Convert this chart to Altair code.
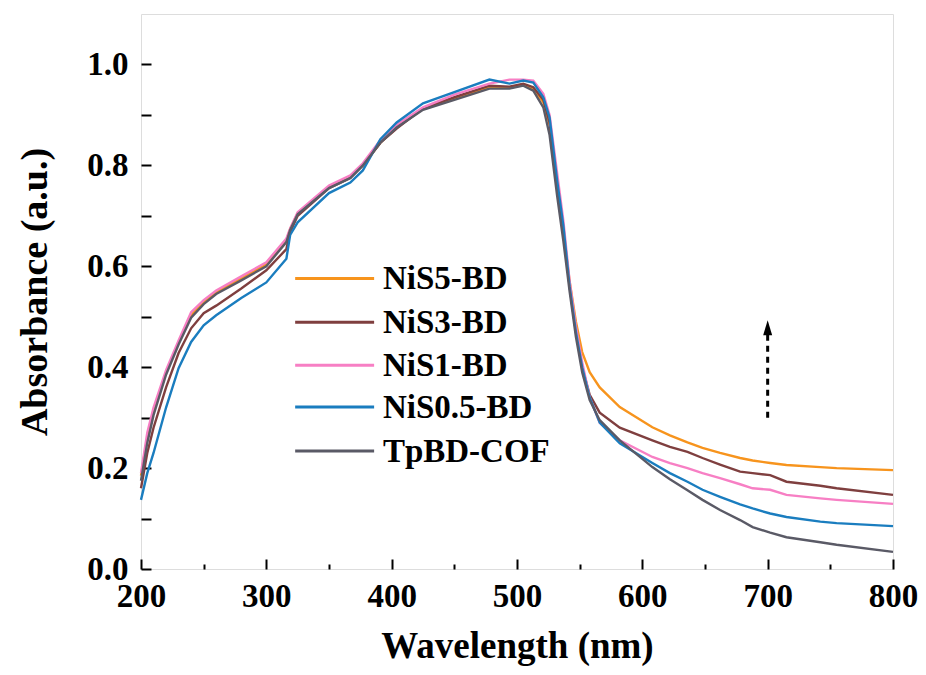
import altair as alt
import pandas as pd

wavelength = [200, 205, 210, 220, 230, 240, 250, 260, 280, 300, 316, 319, 325, 350, 367, 377,
              391, 404, 425, 450, 478, 494, 505, 513, 521, 526, 532, 537, 542, 547, 552, 558,
              566, 582, 608, 622, 636, 648, 662, 678, 688, 702, 715, 742, 755, 800]

nis5 = [0.185, 0.26, 0.315, 0.39, 0.45, 0.503, 0.53, 0.549, 0.576, 0.604, 0.652, 0.674, 0.705, 0.757, 0.777, 0.80,
        0.845, 0.875, 0.912, 0.933, 0.955, 0.955, 0.96, 0.952, 0.925, 0.88, 0.77, 0.67, 0.57, 0.49, 0.43, 0.39,
        0.36, 0.321, 0.281, 0.265, 0.251, 0.24, 0.23, 0.22, 0.215, 0.21, 0.206, 0.202, 0.2, 0.196]
nis3 = [0.16, 0.23, 0.28, 0.36, 0.428, 0.477, 0.507, 0.522, 0.556, 0.592, 0.634, 0.668, 0.70, 0.755, 0.775, 0.80,
        0.845, 0.873, 0.913, 0.935, 0.958, 0.956, 0.962, 0.955, 0.93, 0.885, 0.77, 0.67, 0.56, 0.47, 0.40, 0.345,
        0.31, 0.28, 0.255, 0.242, 0.232, 0.22, 0.207, 0.193, 0.19, 0.186, 0.173, 0.165, 0.16, 0.147]
nis1 = [0.19, 0.27, 0.32, 0.394, 0.453, 0.509, 0.533, 0.552, 0.58, 0.608, 0.655, 0.675, 0.707, 0.76, 0.78, 0.804,
        0.85, 0.88, 0.915, 0.94, 0.962, 0.97, 0.97, 0.968, 0.942, 0.90, 0.785, 0.69, 0.57, 0.48, 0.41, 0.34,
        0.29, 0.255, 0.222, 0.21, 0.20, 0.19, 0.18, 0.168, 0.16, 0.157, 0.147, 0.14, 0.137, 0.129]
nis05 = [0.137, 0.19, 0.23, 0.32, 0.398, 0.45, 0.483, 0.503, 0.537, 0.568, 0.615, 0.662, 0.687, 0.745, 0.766, 0.79,
         0.852, 0.885, 0.923, 0.945, 0.970, 0.962, 0.968, 0.964, 0.935, 0.895, 0.77, 0.68, 0.56, 0.47, 0.40, 0.34,
         0.29, 0.249, 0.21, 0.19, 0.173, 0.157, 0.143, 0.128, 0.12, 0.11, 0.103, 0.094, 0.091, 0.085]
tpbd = [0.175, 0.25, 0.305, 0.385, 0.445, 0.498, 0.525, 0.545, 0.572, 0.60, 0.648, 0.672, 0.703, 0.755, 0.775, 0.80,
        0.845, 0.875, 0.91, 0.93, 0.952, 0.952, 0.958, 0.948, 0.915, 0.86, 0.74, 0.65, 0.55, 0.46, 0.39, 0.335,
        0.295, 0.255, 0.202, 0.178, 0.156, 0.137, 0.117, 0.097, 0.083, 0.072, 0.063, 0.053, 0.048, 0.034]

series_names = ["NiS5-BD", "NiS3-BD", "NiS1-BD", "NiS0.5-BD", "TpBD-COF"]
series_colors = ["#F7941D", "#7F3F3F", "#F77FC4", "#1A7DBF", "#5A5A66"]
draw_order = [1, 2, 3, 4, 0]  # TpBD first, blue last (on top)

x_major = [200, 300, 400, 500, 600, 700, 800]
x_minor = [250, 350, 450, 550, 650, 750]
y_ticks = [0.0, 0.1, 0.2, 0.3, 0.4, 0.5, 0.6, 0.7, 0.8, 0.9, 1.0]

# legend placed inside the plot (data coordinates)
legend_y = [0.576, 0.489, 0.404, 0.321, 0.234]
legend_x_start = [323]
legend_x_end = [386]
legend_label_x = [393]

# dashed arrow annotation
arrow_x = [700]
arrow_y_start = [0.30]
arrow_y_end = [0.465]
arrow_head_y = [0.478]

series_values = [nis5, nis3, nis1, nis05, tpbd]
rows = []
for i, (name, vals) in enumerate(zip(series_names, series_values)):
    for w, v in zip(wavelength, vals):
        rows.append({"wavelength": w, "absorbance": v, "series": name, "order": draw_order[i]})
df = pd.DataFrame(rows)

legend_df = pd.DataFrame({
    "series": series_names,
    "y": legend_y,
    "x0": legend_x_start * len(series_names),
    "x1": legend_x_end * len(series_names),
    "xl": legend_label_x * len(series_names),
})

FONT = "Liberation Serif"

x_scale = alt.Scale(domain=[200, 800], nice=False, zero=False)
y_scale = alt.Scale(domain=[0, 1.1], nice=False, zero=True)
color_scale = alt.Scale(domain=series_names, range=series_colors)

y_axis = alt.Axis(
    values=y_ticks, offset=-10, domain=False, tickSize=10, tickWidth=2, tickColor="black",
    labelExpr="round(datum.value*10) % 2 == 0 ? format(datum.value, '.1f') : ''",
    labelFont=FONT, labelFontSize=33, labelFontWeight="bold", labelColor="black", labelPadding=13,
    labelFlush=False,
    title="Absorbance (a.u.)", titleFont=FONT, titleFontSize=38, titleFontWeight="bold",
    titleColor="black", titlePadding=32, grid=False,
)

x_axis_major = alt.Axis(
    values=x_major, orient="bottom", offset=-10, domain=False, tickSize=10, tickWidth=2,
    tickColor="black", format="d", labelFlush=False,
    labelFont=FONT, labelFontSize=33, labelFontWeight="bold", labelColor="black", labelPadding=11,
    title="Wavelength (nm)", titleFont=FONT, titleFontSize=37, titleFontWeight="bold",
    titleColor="black", titlePadding=15, grid=False,
)
x_axis_minor = alt.Axis(
    values=x_minor, orient="bottom", offset=-5, domain=False, tickSize=5, tickWidth=2,
    tickColor="black", labels=False, title=None, grid=False,
)

lines = alt.Chart(df).mark_line(strokeWidth=2.4).encode(
    x=alt.X("wavelength:Q", scale=x_scale, axis=x_axis_major),
    y=alt.Y("absorbance:Q", scale=y_scale, axis=y_axis),
    color=alt.Color("series:N", scale=color_scale, legend=None),
    order=alt.Order("order:Q"),
    detail="series:N",
)

arrow_df = pd.DataFrame({"x": arrow_x, "y0": arrow_y_start, "y1": arrow_y_end, "yh": arrow_head_y})

arrow_line = alt.Chart(arrow_df).mark_rule(
    strokeDash=[6, 5], strokeWidth=3, color="black"
).encode(
    x=alt.X("x:Q", scale=x_scale, axis=x_axis_minor),
    y=alt.Y("y0:Q", scale=y_scale, axis=y_axis),
    y2="y1:Q",
)
arrow_head = alt.Chart(arrow_df).mark_point(
    shape="M0,-1L0.6,1L-0.6,1Z", filled=True, color="black", opacity=1, size=225
).encode(
    x=alt.X("x:Q", scale=x_scale, axis=None),
    y=alt.Y("yh:Q", scale=y_scale, axis=y_axis),
)

legend_lines = alt.Chart(legend_df).mark_rule(strokeWidth=3).encode(
    x=alt.X("x0:Q", scale=x_scale, axis=None),
    x2="x1:Q",
    y=alt.Y("y:Q", scale=y_scale, axis=y_axis),
    color=alt.Color("series:N", scale=color_scale, legend=None),
)
legend_text = alt.Chart(legend_df).mark_text(
    align="left", baseline="middle", font=FONT, fontSize=33, fontWeight="bold", color="black", dy=1
).encode(
    x=alt.X("xl:Q", scale=x_scale, axis=None),
    y=alt.Y("y:Q", scale=y_scale, axis=y_axis),
    text="series:N",
)

chart = alt.layer(lines, arrow_line, arrow_head, legend_lines, legend_text).resolve_axis(
    x="independent"
).properties(
    width=752, height=555,
    padding={"left": 133, "top": 6, "right": 25, "bottom": 98},
    autosize=alt.AutoSizeParams(type="none"),
).configure_view(stroke="black", strokeWidth=2.5).configure(background="white")

chart.save("out.html", embed_options={"renderer": "svg", "actions": False})
